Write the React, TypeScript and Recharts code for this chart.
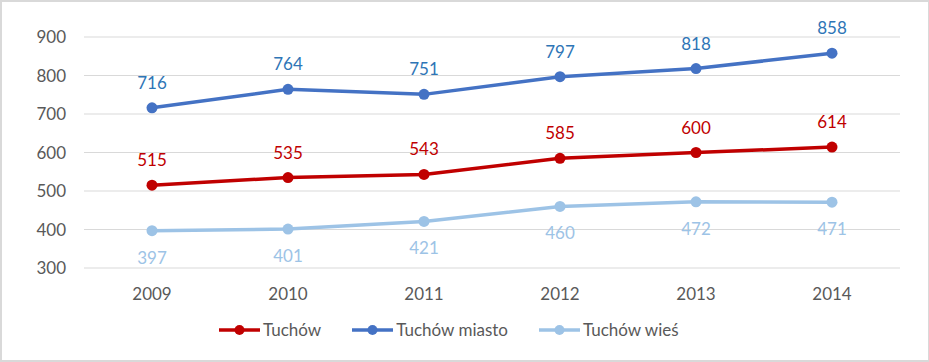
import React from 'react';
import { LineChart, Line, XAxis, YAxis, CartesianGrid, LabelList } from 'recharts';

const years = ['2009', '2010', '2011', '2012', '2013', '2014'];
const tuchow = [515, 535, 543, 585, 600, 614];
const tuchowMiasto = [716, 764, 751, 797, 818, 858];
const tuchowWies = [397, 401, 421, 460, 472, 471];
const yTicks = [300, 400, 500, 600, 700, 800, 900];

const data = years.map((year, i) => ({
  year,
  tuchow: tuchow[i],
  miasto: tuchowMiasto[i],
  wies: tuchowWies[i],
}));

const FONT = 'Lato, "Open Sans", sans-serif';
const TEXT = '#595959';

const series = [
  { key: 'tuchow', name: 'Tuchów', color: '#C00000', label: '#C00000', pos: 'top' as const, offset: 19 },
  { key: 'miasto', name: 'Tuchów miasto', color: '#4472C4', label: '#2E75B6', pos: 'top' as const, offset: 19 },
  { key: 'wies', name: 'Tuchów wieś', color: '#9DC3E6', label: '#9DC3E6', pos: 'bottom' as const, offset: 21 },
];

function LegendContent() {
  return (
    <div
      style={{
        position: 'absolute',
        left: 219,
        top: 320,
        display: 'flex',
        alignItems: 'center',
        fontFamily: FONT,
        fontSize: 17,
        color: TEXT,
        lineHeight: '20px',
      }}
    >
      {series.map((s, i) => (
        <div key={s.key} style={{ display: 'flex', alignItems: 'center', marginRight: i < series.length - 1 ? 31 : 0 }}>
          <svg width={41} height={12} style={{ marginRight: 3 }}>
            <line x1={0} y1={6} x2={41} y2={6} stroke={s.color} strokeWidth={3.5} />
            <circle cx={20.5} cy={6} r={5} fill={s.color} />
          </svg>
          <span>{s.name}</span>
        </div>
      ))}
    </div>
  );
}

export default function App() {
  return (
    <div
      style={{
        position: 'absolute',
        left: 0,
        top: 0,
        width: 929,
        height: 362,
        boxSizing: 'border-box',
        borderTop: '2px solid #d9d9d9',
        borderLeft: '2px solid #d9d9d9',
        borderBottom: '2px solid #d9d9d9',
        borderRight: '1px solid #d9d9d9',
        background: '#fff',
        overflow: 'hidden',
      }}
    >
      <div style={{ position: 'absolute', left: -2, top: -2 }}>
        <LineChart width={929} height={362} data={data} margin={{ top: 37, right: 29, bottom: 54, left: 0 }}>
          <CartesianGrid vertical={false} stroke="#d9d9d9" strokeWidth={1} />
          <XAxis
            dataKey="year"
            height={40}
            axisLine={false}
            tickLine={false}
            tickMargin={14}
            padding={{ left: 68, right: 68 }}
            tick={{ fill: TEXT, fontSize: 17, fontFamily: FONT }}
          />
          <YAxis
            width={84}
            domain={[300, 900]}
            ticks={yTicks}
            axisLine={false}
            tickLine={false}
            tickMargin={12}
            tick={{ fill: TEXT, fontSize: 17, fontFamily: FONT }}
          />
          {series.map((s) => (
            <Line
              key={s.key}
              dataKey={s.key}
              name={s.name}
              stroke={s.color}
              strokeWidth={3.5}
              dot={{ r: 5.5, fill: s.color, stroke: s.color, strokeWidth: 0 }}
              activeDot={false}
              isAnimationActive={false}
            >
              <LabelList
                dataKey={s.key}
                position={s.pos}
                offset={s.offset}
                fill={s.label}
                fontSize={17}
                fontFamily={FONT}
              />
            </Line>
          ))}
        </LineChart>
        <LegendContent />
      </div>
    </div>
  );
}
